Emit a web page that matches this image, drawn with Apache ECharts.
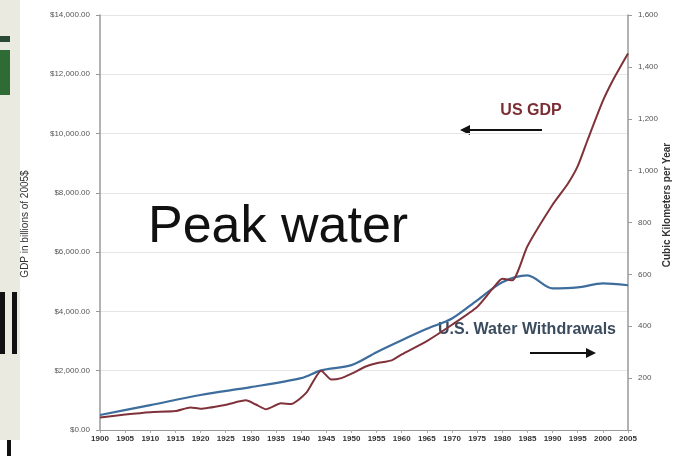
<!DOCTYPE html>
<html>
<head>
<meta charset="utf-8">
<script src="https://cdn.jsdelivr.net/npm/echarts@6/dist/echarts.min.js"></script>
<style>
  html, body { margin: 0; padding: 0; background: #fff; }
  #chart { width: 677px; height: 456px; }
</style>
</head>
<body>
<div id="chart"></div>
<script>
  // US real GDP, billions of 2005 dollars (left axis)
  var gdpYears = [1900, 1905, 1910, 1915, 1918, 1920, 1925, 1929, 1931, 1933, 1936, 1938, 1941, 1944, 1946, 1948, 1950, 1953, 1955, 1958, 1960, 1965, 1970, 1975, 1978, 1980, 1982, 1985, 1990, 1993, 1995, 1997, 2000, 2002, 2005];
  var gdpValues = [420, 520, 600, 640, 760, 720, 850, 1000, 860, 700, 900, 880, 1250, 2000, 1700, 1750, 1900, 2150, 2250, 2350, 2550, 3000, 3550, 4150, 4750, 5100, 5050, 6200, 7600, 8300, 8900, 9800, 11100, 11800, 12700];

  // US water withdrawals, cubic km per year (right axis)
  var waterYears = [1900, 1910, 1920, 1930, 1940, 1944, 1950, 1955, 1960, 1965, 1970, 1975, 1980, 1985, 1990, 1995, 2000, 2005];
  var waterValues = [58, 96, 135, 165, 200, 230, 250, 300, 346, 390, 430, 500, 570, 596, 546, 550, 565, 558];

  var gdpTicks = [0, 2000, 4000, 6000, 8000, 10000, 12000, 14000];
  var waterTicks = [0, 200, 400, 600, 800, 1000, 1200, 1400, 1600];

  function pairs(xs, ys) {
    return xs.map(function (x, i) { return [x, ys[i]]; });
  }

  var chartDom = document.getElementById('chart');
  var myChart = echarts.init(chartDom);

  var option = {
    backgroundColor: '#fff',
    animation: false,
    grid: { left: 100, right: 49, top: 15, bottom: 26 },
    xAxis: {
      type: 'value',
      min: 1900,
      max: 2005,
      interval: 5,
      axisLine: { lineStyle: { color: '#999', width: 1 } },
      axisTick: { length: 3, lineStyle: { color: '#aaa' } },
      splitLine: { show: false },
      axisLabel: {
        color: '#333', fontSize: 8, fontWeight: 'bold', margin: 5,
        fontFamily: 'Liberation Sans',
        formatter: function (v) { return String(v); }
      }
    },
    yAxis: [
      {
        type: 'value',
        min: gdpTicks[0],
        max: gdpTicks[gdpTicks.length - 1],
        interval: 2000,
        position: 'left',
        axisLine: { show: true, lineStyle: { color: '#999', width: 1.5 } },
        axisTick: { show: true, length: 4, lineStyle: { color: '#999' } },
        splitLine: { show: true, lineStyle: { color: '#e6e6e6', width: 1 } },
        axisLabel: {
          color: '#555', fontSize: 8, margin: 10, fontFamily: 'Liberation Sans',
          formatter: function (v) {
            return '$' + v.toLocaleString('en-US', { minimumFractionDigits: 2, maximumFractionDigits: 2 });
          }
        }
      },
      {
        type: 'value',
        min: waterTicks[0],
        max: waterTicks[waterTicks.length - 1],
        interval: 200,
        position: 'right',
        axisLine: { show: true, lineStyle: { color: '#999', width: 1.5 } },
        axisTick: { show: true, length: 4, inside: false, lineStyle: { color: '#999' } },
        splitLine: { show: false },
        axisLabel: {
          color: '#555', fontSize: 8, margin: 10, fontFamily: 'Liberation Sans',
          formatter: function (v) { return v === 0 ? '' : v.toLocaleString('en-US'); }
        }
      }
    ],
    series: [
      {
        name: 'U.S. Water Withdrawals',
        type: 'line',
        yAxisIndex: 1,
        data: pairs(waterYears, waterValues),
        showSymbol: false,
        smooth: 0.3,
        lineStyle: { color: '#3d6d9c', width: 2.2 },
        z: 2
      },
      {
        name: 'US GDP',
        type: 'line',
        yAxisIndex: 0,
        data: pairs(gdpYears, gdpValues),
        showSymbol: false,
        smooth: 0.2,
        lineStyle: { color: '#80323a', width: 2 },
        z: 3
      }
    ],
    graphic: [
      // strip of the slide behind the chart
      { type: 'rect', shape: { x: 0, y: 0, width: 20, height: 440 }, style: { fill: '#ebeae0' }, silent: true },
      { type: 'rect', shape: { x: 0, y: 36, width: 10, height: 6 }, style: { fill: '#2b4a33' }, silent: true },
      { type: 'rect', shape: { x: 0, y: 50, width: 10, height: 45 }, style: { fill: '#2f6b35' }, silent: true },
      { type: 'rect', shape: { x: 0, y: 292, width: 5, height: 62 }, style: { fill: '#111' }, silent: true },
      { type: 'rect', shape: { x: 12, y: 292, width: 5, height: 62 }, style: { fill: '#111' }, silent: true },
      { type: 'rect', shape: { x: 7, y: 440, width: 4, height: 16 }, style: { fill: '#111' }, silent: true },
      // axis titles
      {
        type: 'text', x: 25, y: 224, rotation: Math.PI / 2,
        style: { text: 'GDP in billions of 2005$', fill: '#333', font: '10px "Liberation Sans"', textAlign: 'center', textVerticalAlign: 'middle' }
      },
      {
        type: 'text', x: 667, y: 205, rotation: Math.PI / 2,
        style: { text: 'Cubic Kilometers per Year', fill: '#333', font: 'bold 10px "Liberation Sans"', textAlign: 'center', textVerticalAlign: 'middle' }
      },
      // big slide title
      {
        type: 'text', x: 148, y: 228,
        style: { text: 'Peak water', fill: '#111', font: '52px "Liberation Sans"', textAlign: 'left', textVerticalAlign: 'middle' }
      },
      // series annotations
      {
        type: 'text', x: 531, y: 111,
        style: { text: 'US GDP', fill: '#7a2e34', font: 'bold 16px "Liberation Sans"', textAlign: 'center', textVerticalAlign: 'middle' }
      },
      { type: 'line', shape: { x1: 468, y1: 130, x2: 542, y2: 130 }, style: { stroke: '#111', lineWidth: 2 } },
      { type: 'polygon', shape: { points: [[460, 130], [470, 125], [470, 135]] }, style: { fill: '#111' } },
      {
        type: 'text', x: 527, y: 330,
        style: { text: 'U.S. Water Withdrawals', fill: '#3b4b5e', font: 'bold 16px "Liberation Sans"', textAlign: 'center', textVerticalAlign: 'middle' }
      },
      { type: 'line', shape: { x1: 530, y1: 353, x2: 588, y2: 353 }, style: { stroke: '#111', lineWidth: 2 } },
      { type: 'polygon', shape: { points: [[596, 353], [586, 348], [586, 358]] }, style: { fill: '#111' } }
    ]
  };

  option && myChart.setOption(option);
</script>
</body>
</html>
